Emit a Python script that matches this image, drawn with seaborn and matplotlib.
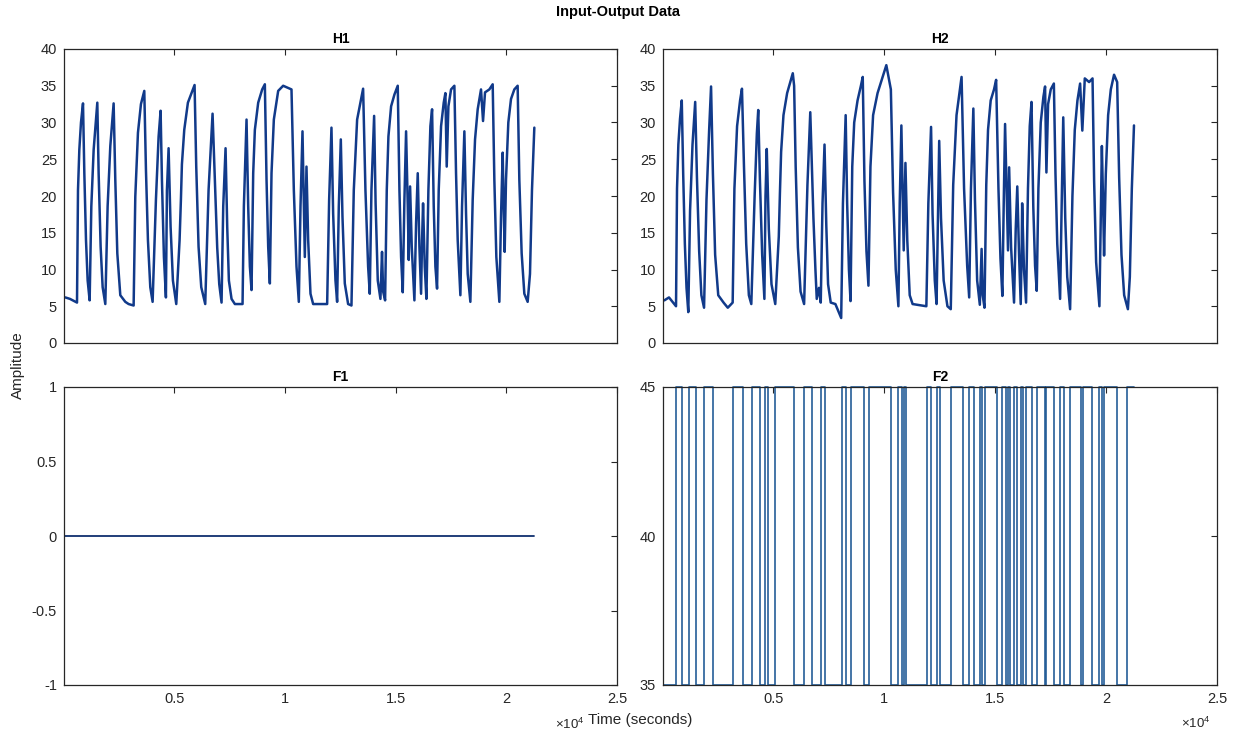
import matplotlib
matplotlib.use("Agg")
import matplotlib.pyplot as plt
import numpy as np
import pandas as pd
import seaborn as sns

# ---------------- data ----------------
h1_t = [90, 300, 617, 662, 722, 797, 888, 948, 1023, 1098, 1188, 1264, 1369, 1534,
        1594, 1684, 1775, 1895, 2000, 2121, 2271, 2346, 2437, 2572, 2798, 2948, 3174,
        3249, 3369, 3504, 3655, 3730, 3820, 3926, 4031, 4181, 4302, 4392, 4452, 4542, 4632,
        4678, 4753, 4843, 4948, 5099, 5249, 5309, 5354, 5460, 5625, 5926,
        6001, 6106, 6227, 6407, 6558, 6738, 6798, 6858, 6948, 7040, 7144, 7220, 7325,
        7400, 7475, 7595, 7746, 8092, 8152, 8272, 8347, 8423, 8498,
        8573, 8648, 8799, 8979, 9099, 9175, 9250, 9325, 9400, 9505, 9701, 9926, 10302,
        10408, 10528, 10633, 10709, 10799, 10859, 10904, 10979,
        11055, 11160, 11280, 11912, 12002, 12107, 12183, 12288, 12363, 12438, 12529,
        12604, 12709, 12859, 13010, 13115, 13266, 13536, 13641, 13762, 13837, 13912, 14033,
        14100, 14198, 14318, 14390, 14440, 14529, 14604, 14679, 14800, 14950, 15100,
        15176, 15251, 15326, 15401, 15476, 15552, 15597, 15657, 15732, 15852, 15928, 16003,
        16078, 16153, 16198, 16243, 16319, 16394, 16484, 16574, 16650, 16725, 16800, 16875,
        16950, 17056, 17176, 17251, 17311, 17387, 17507, 17657, 17732, 17807, 17928,
        18003, 18108, 18184, 18259, 18379, 18484, 18590, 18710, 18860, 18951,
        19041, 19236, 19387, 19462, 19552, 19688, 19763, 19838, 19883, 19928,
        19988, 20093, 20214, 20364, 20514, 20590, 20695, 20816, 20966, 21071, 21161, 21267]
h1_v = [6.2, 6.0, 5.5, 20.8, 26.3, 30.0, 32.6, 23.1, 14.0, 8.5, 5.8, 18.6, 26.3, 32.7,
        23.1, 13.1, 7.6, 5.3, 18.6, 26.8, 32.6, 22.2, 12.2, 6.5, 5.6, 5.3, 5.1,
        19.9, 28.6, 32.5, 34.3, 23.6, 14.0, 7.6, 5.6, 19.5, 28.1, 31.6, 22.2, 11.7, 6.2,
        20.8, 26.5, 15.8, 8.5, 5.3, 14.0, 19.5, 24.3, 29.0, 32.7, 35.1,
        24.0, 13.1, 7.6, 5.3, 20.8, 31.2, 26.0, 20.8, 13.0, 8.0, 5.5, 18.6, 26.5,
        15.8, 8.5, 6.0, 5.3, 5.3, 18.6, 30.4, 18.6, 10.4, 7.2,
        23.1, 29.0, 32.7, 34.5, 35.2, 22.2, 13.1, 8.1, 23.1, 30.4, 34.3, 35.0, 34.5,
        20.8, 10.4, 5.6, 18.6, 28.8, 18.6, 11.7, 24.0,
        14.0, 6.7, 5.3, 5.3, 19.5, 29.3, 17.6, 8.5, 5.6, 18.6, 27.7,
        17.2, 8.1, 5.3, 5.1, 20.8, 30.4, 34.6, 20.8, 10.4, 6.7, 20.8, 30.9,
        19.0, 8.5, 6.0, 12.4, 7.0, 5.8, 20.8, 28.1, 32.2, 33.8, 35.0,
        20.8, 11.7, 6.9, 19.5, 28.8, 18.6, 11.3, 21.3, 13.1, 5.8, 16.3, 23.1,
        13.1, 6.7, 14.0, 19.0, 10.4, 6.0, 20.8, 29.5, 31.8, 18.6, 10.4, 7.4,
        20.8, 29.5, 32.7, 34.0, 24.0, 32.2, 34.5, 35.0, 23.1, 14.0, 6.5,
        18.6, 28.8, 17.6, 9.4, 5.6, 19.5, 27.7, 31.8, 34.5, 30.2,
        34.1, 34.5, 35.2, 22.2, 11.7, 5.6, 17.2, 25.9, 18.6, 12.4,
        22.2, 30.0, 33.2, 34.5, 35.0, 22.2, 12.2, 6.7, 5.6, 9.4, 20.8, 29.3]

h2_t = [90, 300, 617, 662, 722, 797, 876, 940, 1015, 1090, 1170, 1250, 1360, 1481,
        1560, 1660, 1760, 1880, 1990, 2110, 2196, 2280, 2380, 2520, 2760, 2950, 3170,
        3249, 3369, 3504, 3589, 3680, 3780, 3900, 4010, 4160, 4260, 4322, 4400, 4500, 4600,
        4650, 4707, 4800, 4920, 5090, 5249, 5300, 5354, 5460, 5625, 5880, 5940,
        6010, 6110, 6230, 6390, 6540, 6668, 6740, 6810, 6900, 6960, 7060, 7140, 7220, 7310,
        7390, 7470, 7590, 7800, 8061, 8140, 8263, 8330, 8410, 8483,
        8560, 8648, 8799, 8950, 9033, 9110, 9200, 9290, 9380, 9500, 9701, 10096, 10300,
        10400, 10520, 10640, 10700, 10774, 10840, 10880, 10957,
        11040, 11150, 11280, 11900, 11990, 12112, 12180, 12280, 12360, 12430, 12479,
        12560, 12680, 12850, 13000, 13110, 13260, 13487, 13600, 13740, 13830, 13910, 14018,
        14090, 14190, 14310, 14390, 14440, 14520, 14600, 14680, 14800, 14950, 15045,
        15150, 15240, 15326, 15390, 15448, 15530, 15580, 15631, 15720, 15852, 15928, 15998,
        16078, 16153, 16198, 16218, 16300, 16394, 16480, 16560, 16640, 16720, 16800, 16875,
        16950, 17056, 17176, 17251, 17311, 17387, 17507, 17647, 17720, 17800, 17928,
        18000, 18070, 18160, 18250, 18379, 18484, 18590, 18710, 18830, 18930,
        19041, 19236, 19390, 19462, 19552, 19700, 19763, 19811, 19870, 19910,
        19988, 20093, 20214, 20360, 20500, 20590, 20695, 20816, 20984, 21071, 21161, 21258]
h2_v = [5.8, 6.2, 5.0, 21.0, 27.0, 30.5, 33.0, 23.0, 13.5, 7.5, 4.2, 18.0, 27.0, 32.8,
        22.5, 12.5, 6.5, 4.8, 19.5, 29.0, 34.9, 23.0, 12.0, 6.5, 5.5, 4.8, 5.5,
        21.0, 29.5, 33.0, 34.6, 24.0, 13.5, 6.5, 5.3, 20.0, 28.5, 31.7, 22.0, 12.0, 6.0,
        20.0, 26.4, 15.5, 8.0, 5.3, 14.5, 20.4, 26.0, 31.0, 34.0, 36.7, 35.0,
        24.0, 13.0, 7.0, 5.3, 21.5, 31.4, 24.0, 17.0, 10.0, 6.0, 7.5, 5.5, 19.0, 27.0,
        16.0, 8.0, 5.5, 5.3, 3.4, 19.0, 31.0, 19.0, 10.0, 5.7,
        24.0, 30.0, 33.0, 35.0, 36.2, 22.0, 12.5, 7.8, 24.0, 31.0, 34.0, 37.8, 34.5,
        20.5, 10.0, 5.0, 19.0, 29.6, 19.0, 12.6, 24.5,
        14.0, 6.5, 5.3, 5.0, 19.0, 29.4, 17.5, 8.5, 5.3, 18.0, 27.5,
        17.0, 8.5, 5.0, 4.6, 21.5, 31.0, 36.2, 21.0, 10.5, 6.2, 21.0, 31.9,
        19.5, 8.5, 5.2, 12.8, 6.5, 4.8, 21.5, 29.0, 33.0, 34.5, 35.8,
        21.0, 11.5, 6.4, 19.5, 29.8, 19.0, 12.6, 23.9, 13.0, 5.5, 15.5, 21.3,
        12.0, 5.3, 13.0, 19.0, 10.0, 5.5, 21.0, 29.5, 32.8, 18.5, 10.5, 7.1,
        21.0, 30.0, 33.5, 34.9, 23.2, 32.5, 34.5, 35.3, 23.0, 13.5, 6.0,
        19.0, 30.7, 17.0, 9.0, 4.6, 20.0, 29.0, 33.0, 35.3, 28.9,
        36.0, 35.5, 36.0, 22.0, 11.0, 5.0, 17.5, 26.8, 18.5, 11.9,
        23.0, 31.0, 34.5, 36.5, 35.5, 22.5, 12.0, 6.5, 4.6, 9.0, 21.0, 29.6]

# F1: constant zero input
f1_t = [90, 21267]
f1_v = [0, 0]

# F2: switching input, "on" (45) intervals; otherwise 35
f2_start, f2_end = 90, 21267
f2_on = [617, 1188, 1895, 3174, 4031, 4632, 5099, 6407, 7144, 8092, 8498, 9325,
         10633, 10904, 11912, 12363, 13010, 13837, 14330, 14529, 15326, 15597, 15852,
         16153, 16394, 16875, 17311, 17928, 18379, 18951, 19688, 19928, 20966]
f2_off = [888, 1534, 2271, 3655, 4392, 4753, 5926, 6738, 7325, 8272, 9099, 10302,
          10799, 10979, 12107, 12529, 13536, 14033, 14390, 15100, 15476, 15657, 16003,
          16243, 16650, 17251, 17657, 18108, 18860, 19387, 19838, 20514, 21267]
f2_low, f2_high = 35, 45

x_ticks = [5000, 10000, 15000, 20000, 25000]
x_ticklabels = ["0.5", "1", "1.5", "2", "2.5"]
h_yticks = [0, 5, 10, 15, 20, 25, 30, 35, 40]
f1_yticks = [-1, -0.5, 0, 0.5, 1]
f1_yticklabels = ["-1", "-0.5", "0", "0.5", "1"]
f2_yticks = [35, 40, 45]

# build step table for F2
st_t, st_v = [f2_start], [f2_low]
for a, b in zip(f2_on, f2_off):
    st_t += [a, a, b]
    st_v += [f2_low, f2_high, f2_high]
    if b != f2_end:
        st_t += [b]
        st_v += [f2_low]
f2_df = pd.DataFrame({"t": st_t, "v": st_v})

# ---------------- style ----------------
sns.set_theme(style="white")
plt.rcParams["font.family"] = ["Liberation Sans", "DejaVu Sans"]
plt.rcParams["mathtext.fontset"] = "custom"
plt.rcParams["mathtext.rm"] = "Liberation Sans"
plt.rcParams["mathtext.default"] = "regular"

W, H = 1236, 735
fig = plt.figure(figsize=(W / 100, H / 100), dpi=100)
fig.patch.set_facecolor("white")


def rect(l, t, r, b):
    return [l / W, 1 - b / H, (r - l) / W, (b - t) / H]


ax_h1 = fig.add_axes(rect(64, 49, 617, 343))
ax_h2 = fig.add_axes(rect(663, 49, 1217, 343))
ax_f1 = fig.add_axes(rect(64, 387, 617, 685))
ax_f2 = fig.add_axes(rect(663, 387, 1217, 685))

hcol = "#113a8a"
fcol = "#255e98"

sns.lineplot(x=h1_t, y=h1_v, ax=ax_h1, color=hcol, lw=1.8, sort=False, estimator=None)
sns.lineplot(x=h2_t, y=h2_v, ax=ax_h2, color=hcol, lw=1.8, sort=False, estimator=None)
sns.lineplot(x=f1_t, y=f1_v, ax=ax_f1, color="#0f2f6e", lw=1.3, sort=False, estimator=None)
sns.lineplot(data=f2_df, x="t", y="v", ax=ax_f2, color=fcol, lw=1.2, sort=False,
             estimator=None, clip_on=False)

tc = "#262626"
for ax, title in [(ax_h1, "H1"), (ax_h2, "H2"), (ax_f1, "F1"), (ax_f2, "F2")]:
    ax.set_facecolor("white")
    ax.set_xlim(30, 25000)
    ax.set_xticks(x_ticks)
    ax.set_xlabel("")
    ax.set_ylabel("")
    ax.set_title(title, fontsize=10, fontweight="bold", pad=4, color="black")
    for s in ax.spines.values():
        s.set_visible(True)
        s.set_color(tc)
        s.set_linewidth(0.9)
    ax.tick_params(direction="in", top=True, right=True, length=4, width=0.8,
                   labelsize=10.5, colors=tc, pad=5)
    ax.grid(False)

for ax in (ax_h1, ax_h2):
    ax.set_ylim(0, 40)
    ax.set_yticks(h_yticks)
    ax.set_yticklabels([str(v) for v in h_yticks])
    ax.tick_params(labelbottom=False)

ax_f1.set_ylim(-1, 1)
ax_f1.set_yticks(f1_yticks)
ax_f1.set_yticklabels(f1_yticklabels)
ax_f2.set_ylim(35, 45)
ax_f2.set_yticks(f2_yticks)
ax_f2.set_yticklabels([str(v) for v in f2_yticks])
for ax in (ax_f1, ax_f2):
    ax.set_xticklabels(x_ticklabels)

fig.text(0.5, 1 - 12 / H, "Input-Output Data", ha="center", va="center",
         fontsize=10.5, fontweight="bold", color="black")
fig.text(18 / W, 1 - 365 / H, "Amplitude", ha="center", va="center",
         rotation=90, fontsize=11, color=tc)
fig.text(640 / W, 1 - 720 / H, "Time (seconds)", ha="center", va="center",
         fontsize=11, color=tc)
fig.text(1196 / W, 1 - 723 / H, r"$\times10^{4}$", ha="center", va="center",
         fontsize=9.5, color=tc)
fig.text(584 / W, 1 - 724 / H, r"$\times10^{4}$", ha="right", va="center",
         fontsize=9.5, color=tc)

fig.savefig("out.png", dpi=100, facecolor="white")
